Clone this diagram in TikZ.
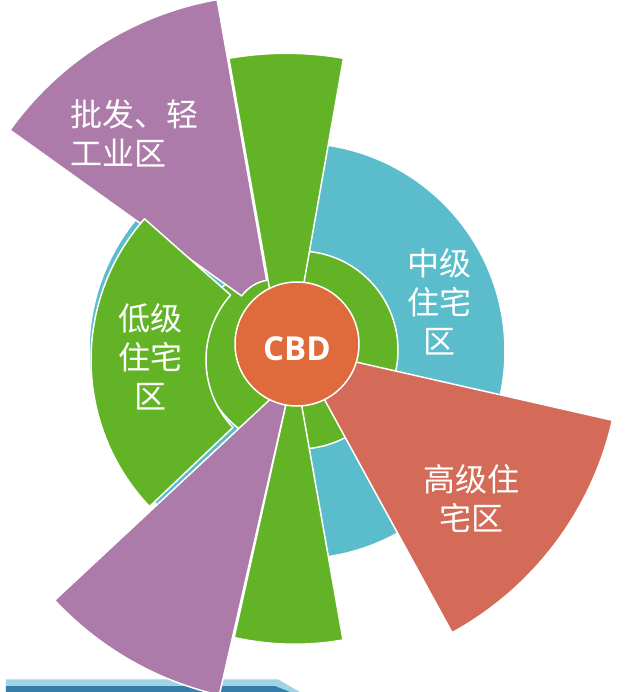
\documentclass[tikz,border=0pt]{standalone}
\usepackage{fontspec}
\setmainfont{Open Sans}
\newfontfamily\cjk{Noto Sans CJK SC}
\usepackage{xcolor}
\usepackage{tikz}
\usetikzlibrary{calc}

\definecolor{xanhLam}{HTML}{5BBDCB}
\definecolor{xanhLa}{HTML}{62B426}
\definecolor{tim}{HTML}{AD7BA9}
\definecolor{doNhat}{HTML}{D46B58}
\definecolor{cam}{HTML}{DF6A3B}
\definecolor{thanhNhat}{HTML}{9FD4E5}
\definecolor{thanhDam}{HTML}{367EAA}

\tikzset{
    vung/.style={draw=white, line width=1.5pt, line join=round},
    nhan/.style={text=white, inner sep=0pt, align=center,
                 font=\cjk\fontsize{32}{39}\selectfont},
}

\begin{document}
\begin{tikzpicture}[x=1pt, y=1pt]

    \useasboundingbox (-297,-348) rectangle (343,344);
    \clip (-297,-348) rectangle (343,344);

    % =================================================================
    % 1. TỌA ĐỘ CÁC TÂM
    % =================================================================
    \coordinate (O) at (0,0);
    \coordinate (Ov) at (0,-7);       % vành ngoài
    \coordinate (On) at (2,-6);       % vành trong
    \coordinate (P1) at (-23.6,25.3); % quạt tím trên
    \coordinate (P2) at (-5.4,-35.3); % quạt tím dưới
    \coordinate (G1) at (-10.8,-39.3);% quạt xanh trên
    \coordinate (G2) at (-2.4,-21.2); % quạt xanh dưới
    \coordinate (G3) at (7,-16);      % quạt xanh trái
    \coordinate (R) at (-0.5,-4.5);   % quạt đỏ

    % =================================================================
    % 2. THANH XANH PHÍA DƯỚI
    % =================================================================
    \fill[thanhNhat] (-291,-335.3) -- (-19,-335.3) -- (3,-348) -- (-291,-348) -- cycle;
    \fill[thanhDam] (-291,-342) -- (-22,-342) -- (-7,-348) -- (-291,-348) -- cycle;

    % =================================================================
    % 3. CÁC VÀNH VÀ CÁC QUẠT
    % =================================================================
    \draw[vung, fill=xanhLam] (Ov) circle (208);
    \draw[vung, fill=xanhLa] (On) circle (99);

    % Quạt tím phía trên
    \draw[vung, fill=tim, shift={(P1)}]
        (100:39) -- (100:324) arc[start angle=100, end angle=144.4, radius=324]
        -- (144.4:39) arc[start angle=144.4, end angle=100, radius=39] -- cycle;

    % Quạt xanh bên trái
    \draw[vung, fill=xanhLa, shift={(G3)}]
        (138.5:98) -- (138.5:213) arc[start angle=138.5, end angle=223.5, radius=213]
        -- (223.5:98) arc[start angle=223.5, end angle=138.5, radius=98] -- cycle;

    % Quạt xanh trên và dưới
    \draw[vung, fill=xanhLa, shift={(G1)}]
        (0,0) -- (80:330) arc[start angle=80, end angle=100, radius=330] -- cycle;
    \draw[vung, fill=xanhLa, shift={(G2)}]
        (0,0) -- (-102.5:279) arc[start angle=-102.5, end angle=-80, radius=279] -- cycle;

    % Quạt tím phía dưới
    \draw[vung, fill=tim, shift={(P2)}]
        (223:26.4) -- (223:324) arc[start angle=223, end angle=257.1, radius=324]
        -- (257.1:26.4) arc[start angle=257.1, end angle=223, radius=26.4] -- cycle;

    % Quạt đỏ
    \draw[vung, fill=doNhat, shift={(R)}]
        (0,0) -- (-61.3:324) arc[start angle=-61.3, end angle=-12.8, radius=324] -- cycle;

    % Trung tâm
    \draw[vung, fill=cam] (O) circle (62);

    % =================================================================
    % 4. NHÃN
    % =================================================================
    \node[text=white, font=\bfseries\fontsize{33}{33}\selectfont] (cbd) at (0,-5) {CBD};
    \node[nhan, anchor=west, align=left] (banBuon) at (-227,211) {批发、轻\\工业区};
    \node[nhan] (trungBinh) at (142,42) {中级\\住宅\\区};
    \node[nhan] (thap) at (-146,-13) {低级\\住宅\\区};
    \node[nhan] (cao) at (174,-155) {高级住\\宅区};

\end{tikzpicture}
\end{document}
